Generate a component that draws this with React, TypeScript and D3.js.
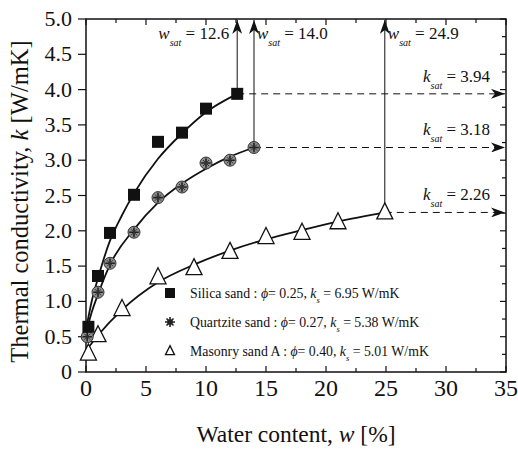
import React from 'react';
import * as d3 from 'd3';

// measured points (w %, k W/mK)
const silicaW = [0.2, 1, 2, 4, 6, 8, 10, 12.6];
const silicaK = [0.64, 1.36, 1.97, 2.51, 3.26, 3.39, 3.73, 3.94];
const quartzW = [0.1, 1, 2, 4, 6, 8, 10, 12, 14.0];
const quartzK = [0.5, 1.13, 1.54, 1.98, 2.47, 2.62, 2.96, 3.0, 3.18];
const masonW = [0.2, 1, 3, 6, 9, 12, 15, 18, 21, 24.9];
const masonK = [0.26, 0.52, 0.89, 1.34, 1.47, 1.7, 1.91, 1.97, 2.12, 2.26];

// fitted curves
const silicaFitW = [0, 0.5, 1, 2, 3, 4, 6, 8, 10, 12.6];
const silicaFitK = [0.6, 1.02, 1.33, 1.86, 2.22, 2.53, 3.02, 3.38, 3.68, 3.94];
const quartzFitW = [0, 0.5, 1, 2, 4, 6, 8, 10, 12, 14];
const quartzFitK = [0.55, 0.86, 1.1, 1.52, 2.02, 2.4, 2.67, 2.88, 3.05, 3.18];
const masonFitW = [0, 1, 3, 6, 9, 12, 15, 18, 21, 24.9];
const masonFitK = [0.3, 0.52, 0.88, 1.27, 1.52, 1.72, 1.88, 2.01, 2.13, 2.26];

const wSat = [12.6, 14.0, 24.9];
const kSat = [3.94, 3.18, 2.26];
const wSatLabels = ['12.6', '14.0', '24.9'];
const kSatLabels = ['3.94', '3.18', '2.26'];

const xTicks = [0, 5, 10, 15, 20, 25, 30, 35];
const yTicks = [0, 0.5, 1, 1.5, 2, 2.5, 3, 3.5, 4, 4.5, 5];

const legendNames = ['Silica sand', 'Quartzite sand', 'Masonry sand A'];
const legendPhi = ['0.25', '0.27', '0.40'];
const legendKs = ['6.95', '5.38', '5.01'];

const W = 518;
const H = 449;
const margin = { top: 19, right: 12, bottom: 77, left: 86 };
const FONT = "'Liberation Serif', 'Times New Roman', 'DejaVu Serif', serif";

const x = d3.scaleLinear().domain([0, 35]).range([margin.left, W - margin.right]);
const y = d3.scaleLinear().domain([0, 5]).range([H - margin.bottom, margin.top]);

const line = d3.line<[number, number]>()
    .x(d => x(d[0]))
    .y(d => y(d[1]))
    .curve(d3.curveMonotoneX);

const zip = (a: number[], b: number[]) => a.map((v, i) => [v, b[i]] as [number, number]);

const Square = ({ cx, cy, s }: { cx: number; cy: number; s: number }) => (
    <rect x={cx - s / 2} y={cy - s / 2} width={s} height={s} fill="#111" />
);

const Ball = ({ cx, cy, r }: { cx: number; cy: number; r: number }) => (
    <g>
        <circle cx={cx} cy={cy} r={r} fill="#8c8c8c" stroke="#333" strokeWidth={1} />
        <path
            d={`M${cx - r * 0.8},${cy}H${cx + r * 0.8}M${cx},${cy - r * 0.8}V${cy + r * 0.8}`}
            stroke="#222" strokeWidth={1.6}
        />
        <path
            d={`M${cx - r * 0.5},${cy - r * 0.5}L${cx + r * 0.5},${cy + r * 0.5}M${cx - r * 0.5},${cy + r * 0.5}L${cx + r * 0.5},${cy - r * 0.5}`}
            stroke="#333" strokeWidth={1}
        />
    </g>
);

const Tri = ({ cx, cy, s }: { cx: number; cy: number; s: number }) => (
    <path
        d={`M${cx},${cy - s * 0.6}L${cx + s / 2},${cy + s * 0.4}L${cx - s / 2},${cy + s * 0.4}Z`}
        fill="white" stroke="#111" strokeWidth={1.3}
    />
);

export default function App() {
    const x0 = x(0), x1 = x(35), y0 = y(0), y1 = y(5);
    const xMinor = d3.range(0, 35.01, 2.5);
    const yMinor = d3.range(0, 5.01, 0.25);

    return (
        <svg width={W} height={H}
            style={{ position: 'absolute', left: 0, top: 0, background: 'white', fontFamily: FONT }}>
            <defs>
                <marker id="arr" viewBox="0 0 14 10" refX="14" refY="5" markerWidth="14" markerHeight="10"
                    markerUnits="userSpaceOnUse" orient="auto">
                    <path d="M0,0L14,5L0,10L4,5Z" fill="#111" />
                </marker>
            </defs>

            {/* frame */}
            <rect x={x0} y={y1} width={x1 - x0} height={y0 - y1} fill="none" stroke="#111" strokeWidth={1.5} />

            {/* ticks */}
            {xMinor.map(t => {
                const major = t % 5 === 0;
                const l = major ? 6 : 4;
                return (
                    <g key={'xt' + t} stroke="#111" strokeWidth={1.2}>
                        <line x1={x(t)} x2={x(t)} y1={y0} y2={y0 - l} />
                        <line x1={x(t)} x2={x(t)} y1={y1} y2={y1 + l} />
                    </g>
                );
            })}
            {yMinor.map(t => {
                const major = Math.abs(t * 2 - Math.round(t * 2)) < 1e-6;
                const l = major ? 6 : 4;
                return (
                    <g key={'yt' + t} stroke="#111" strokeWidth={1.2}>
                        {major && <line x1={x0} x2={x0 - 8} y1={y(t)} y2={y(t)} />}
                        <line x1={x1} x2={x1 - l} y1={y(t)} y2={y(t)} />
                    </g>
                );
            })}

            {/* tick labels */}
            {xTicks.map(t => (
                <text key={'xl' + t} x={x(t)} y={y0 + 24} textAnchor="middle" fontSize={24} fill="#111">{t}</text>
            ))}
            {yTicks.map(t => (
                <text key={'yl' + t} x={x0 - 14} y={y(t) + 7} textAnchor="end" fontSize={22} fill="#111">
                    {t === 0 ? '0' : t.toFixed(1)}
                </text>
            ))}

            {/* axis titles */}
            <text x={(x0 + x1) / 2} y={442} textAnchor="middle" fontSize={23.5} fill="#111">
                Water content, <tspan fontStyle="italic">w</tspan> [%]
            </text>
            <text transform={`translate(28,${(y0 + y1) / 2 + 6}) rotate(-90)`} textAnchor="middle" fontSize={24.5} fill="#111">
                Thermal conductivity, <tspan fontStyle="italic">k</tspan> [W/mK]
            </text>

            {/* saturation arrows */}
            {wSat.map((w, i) => (
                <g key={'sat' + i}>
                    <line x1={x(w)} x2={x(w)} y1={y(kSat[i])} y2={y1 + 1} stroke="#111" strokeWidth={1}
                        markerEnd="url(#arr)" />
                    <line x1={x(w)} x2={x1 - 1} y1={y(kSat[i])} y2={y(kSat[i])} stroke="#111" strokeWidth={1}
                        strokeDasharray="7,5" markerEnd="url(#arr)" />
                </g>
            ))}

            {/* w_sat labels */}
            {wSat.map((w, i) => {
                const tx = i === 0 ? x(w) - 8 : x(w) + 3;
                return (
                    <text key={'wl' + i} x={tx} y={39} textAnchor={i === 0 ? 'end' : 'start'} fontSize={17} fill="#111">
                        <tspan fontStyle="italic">w</tspan>
                        <tspan fontStyle="italic" fontSize={10} dy={7}>sat</tspan>
                        <tspan dy={-7}>{' = ' + wSatLabels[i]}</tspan>
                    </text>
                );
            })}

            {/* k_sat labels */}
            {kSat.map((k, i) => (
                <text key={'kl' + i} x={490} y={y(k) - 12} textAnchor="end" fontSize={17} fill="#111">
                    <tspan fontStyle="italic">k</tspan>
                    <tspan fontStyle="italic" fontSize={10} dy={7}>sat</tspan>
                    <tspan dy={-7}>{' = ' + kSatLabels[i]}</tspan>
                </text>
            ))}

            {/* fitted curves */}
            <path d={line(zip(silicaFitW, silicaFitK)) || ''} fill="none" stroke="#111" strokeWidth={1.8} />
            <path d={line(zip(quartzFitW, quartzFitK)) || ''} fill="none" stroke="#111" strokeWidth={1.8} />
            <path d={line(zip(masonFitW, masonFitK)) || ''} fill="none" stroke="#111" strokeWidth={1.8} />

            {/* data markers */}
            {masonW.map((w, i) => <Tri key={'m' + i} cx={x(w)} cy={y(masonK[i])} s={16} />)}
            {quartzW.map((w, i) => <Ball key={'q' + i} cx={x(w)} cy={y(quartzK[i])} r={6} />)}
            {silicaW.map((w, i) => <Square key={'s' + i} cx={x(w)} cy={y(silicaK[i])} s={12} />)}

            {/* legend */}
            {legendNames.map((name, i) => {
                const ly = 298 + i * 29;
                return (
                    <g key={'lg' + i}>
                        {i === 0 && <rect x={165} y={ly - 10} width={10} height={10} fill="#111" />}
                        {i === 1 && (
                            <g stroke="#222" strokeWidth={1.6}>
                                <circle cx={170} cy={ly - 5} r={3} fill="#555" stroke="none" />
                                <path d={`M165,${ly - 5}H175M170,${ly - 10}V${ly}M166.5,${ly - 8.5}L173.5,${ly - 1.5}M166.5,${ly - 1.5}L173.5,${ly - 8.5}`} />
                            </g>
                        )}
                        {i === 2 && <Tri cx={170} cy={ly - 5} s={9} />}
                        <text x={190} y={ly} fontSize={13.8} fill="#111">
                            {name + ' : '}
                            <tspan fontStyle="italic">ϕ</tspan>
                            {'= ' + legendPhi[i] + ', '}
                            <tspan fontStyle="italic">k</tspan>
                            <tspan fontStyle="italic" fontSize={8.5} dy={5}>s</tspan>
                            <tspan dy={-5}>{' = ' + legendKs[i] + ' W/mK'}</tspan>
                        </text>
                    </g>
                );
            })}
        </svg>
    );
}
